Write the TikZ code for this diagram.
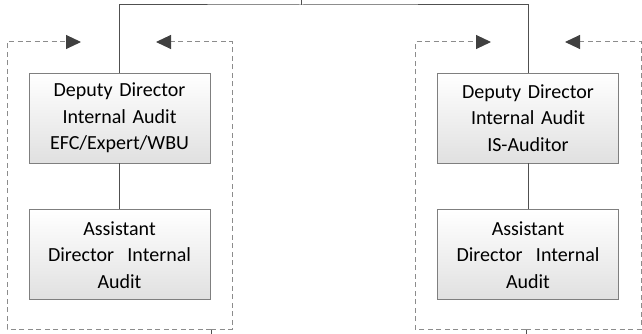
\documentclass[tikz,border=0pt]{standalone}
\usepackage{fontspec}
\setmainfont{Carlito}
\usepackage{tikz}
\usetikzlibrary{arrows.meta, calc, positioning}

\definecolor{boxline}{HTML}{7F7F7F}
\definecolor{linkline}{HTML}{505050}
\definecolor{loopline}{HTML}{8C8C8C}
\definecolor{tipfill}{HTML}{404040}

\begin{document}
\begin{tikzpicture}[x=1pt, y=-1pt,
		post/.style={draw=boxline, line width=.8pt, top color=white, bottom color=black!12,
			minimum width=181pt, minimum height=90pt, text width=175pt, align=center,
			inner sep=0pt, font=\fontsize{20}{26.5}\selectfont},
		link/.style={draw=linkline, line width=1pt},
		feedback/.style={draw=loopline, line width=1pt, dash pattern=on 5pt off 3.5pt,
			-{Triangle[length=15pt, width=14pt, color=tipfill]}}]
		\useasboundingbox (0,0) rectangle (642,334);

		% left branch
		\node[post] (dd1) at (119.5,118) {Deputy Director\\Internal Audit\\EFC/Expert/WBU};
		\node[post, below=46pt of dd1] (ad1) {Assistant\\Director\ \ Internal\\Audit};
		% right branch
		\node[post] (dd2) at (528,118) {Deputy Director\\Internal Audit\\IS-Auditor};
		\node[post, below=46pt of dd2] (ad2) {Assistant\\Director\ \ Internal\\Audit};

		\coordinate (top) at (301,5);
		\draw[link] (top) -- ++(0,-6);
		\draw[link] (dd1.north) |- (top) -| (dd2.north);
		\draw[link] (dd1) -- (ad1);
		\draw[link] (dd2) -- (ad2);

		% feedback loops
		\coordinate (fb1) at (211,329);
		\coordinate (fb2) at (526,329);
		\draw[link] (fb1) -- ++(0,8);
		\draw[link] (fb2) -- ++(0,8);
		\draw[feedback] (fb1) -| (7,42) -- (81,42);
		\draw[feedback] (fb1) -| (232,42) -- (156,42);
		\draw[feedback] (fb2) -| (415,42) -- (491,42);
		\draw[feedback] (fb2) -| (641,42) -- (565,42);
	\end{tikzpicture}
\end{document}
